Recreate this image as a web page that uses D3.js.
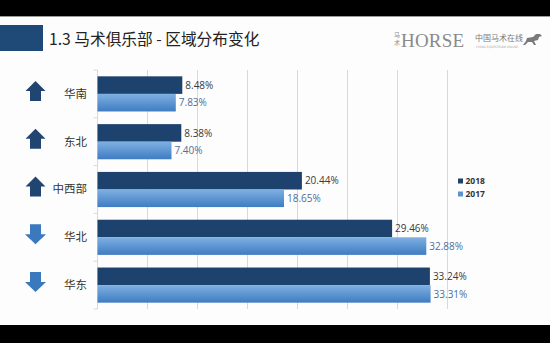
<!DOCTYPE html>
<html>
<head>
<meta charset="utf-8">
<script src="https://cdn.jsdelivr.net/npm/d3@7"></script>
<style>
  html, body { margin: 0; padding: 0; background: #000; }
  svg { display: block; }
</style>
</head>
<body>
<svg id="chart" width="550" height="343"></svg>
<script>
// Regional distribution of equestrian clubs, 2018 vs 2017 (%)
const regions = ["华南", "东北", "中西部", "华北", "华东"];
const values2018 = [8.48, 8.38, 20.44, 29.46, 33.24];
const values2017 = [7.83, 7.40, 18.65, 32.88, 33.31];
const trend = ["up", "up", "up", "down", "down"];
const seriesNames = ["2018", "2017"];
const xTicks = [0, 5, 10, 15, 20, 25, 30, 35];

const svg = d3.select("#chart");
const W = 550, H = 343;

// slide background between the black letterbox bands
svg.append("rect").attr("x", 0).attr("y", 0).attr("width", W).attr("height", H).attr("fill", "#000");
svg.append("rect").attr("x", 0).attr("y", 16).attr("width", W).attr("height", 309).attr("fill", "#fdfdfd");
svg.append("line").attr("x1", 0).attr("x2", W).attr("y1", 16.5).attr("y2", 16.5)
  .attr("stroke", "#9a9a9a").attr("stroke-width", 1);

// header
svg.append("rect").attr("x", 0).attr("y", 25).attr("width", 43).attr("height", 26).attr("fill", "#1f4a78");
svg.append("text").attr("x", 49).attr("y", 45)
  .attr("font-family", "'Noto Sans CJK SC', sans-serif").attr("font-size", 15.7)
  .attr("fill", "#222").text("1.3 马术俱乐部 - 区域分布变化");

// brand marks, upper right
const logo = svg.append("g").attr("fill", "#8a8a8a");
logo.append("text").attr("x", 394).attr("y", 37).attr("font-size", 6)
  .attr("font-family", "'Noto Sans CJK SC', sans-serif").text("马");
logo.append("text").attr("x", 394).attr("y", 45).attr("font-size", 6)
  .attr("font-family", "'Noto Sans CJK SC', sans-serif").text("术");
logo.append("text").attr("x", 401).attr("y", 47).attr("font-size", 19)
  .attr("font-family", "'Liberation Serif', serif").attr("textLength", 63).text("HORSE");
logo.append("text").attr("x", 475).attr("y", 41).attr("font-size", 8)
  .attr("font-family", "'Noto Sans CJK SC', sans-serif").attr("fill", "#7a7a7a").text("中国马术在线");
logo.append("text").attr("x", 476).attr("y", 47.5).attr("font-size", 3)
  .attr("font-family", "'DejaVu Sans', sans-serif").attr("fill", "#aaa").text("CHINA EQUESTRIAN ONLINE");
// small running horse silhouette
logo.append("path")
  .attr("d", "M527,38 l6,-1 l3,-3 l4,0 l2,2 l-3,1 l-1,3 l-4,1 l2,4 l-2,0 l-2,-3 l-4,0 l-3,3 l-2,0 l3,-4 z")
  .attr("fill", "#7a7a7a");

// plot geometry
const plotLeft = 97.5, plotRight = 447.5, plotTop = 70, plotBottom = 309;
const x = d3.scaleLinear().domain([0, 35]).range([plotLeft, plotRight]);
const y = d3.scaleBand().domain(regions).range([plotTop, plotBottom]).paddingInner(0).paddingOuter(0);
const inner = d3.scaleBand().domain(seriesNames).range([0, y.bandwidth()]).paddingInner(0).paddingOuter(0.36);

// gradient for 2017 bars
const defs = svg.append("defs");
const grad = defs.append("linearGradient").attr("id", "g2017").attr("x1", 0).attr("x2", 0).attr("y1", 0).attr("y2", 1);
grad.append("stop").attr("offset", "0%").attr("stop-color", "#7fb0e2");
grad.append("stop").attr("offset", "100%").attr("stop-color", "#3f7cc2");

// vertical gridlines
svg.append("g").selectAll("line").data(xTicks.slice(1)).join("line")
  .attr("x1", d => x(d)).attr("x2", d => x(d))
  .attr("y1", plotTop).attr("y2", plotBottom)
  .attr("stroke", "#d9d9d9").attr("stroke-width", 1);

// category axis with ticks between bands
const yAxis = svg.append("g").attr("transform", `translate(${plotLeft},0)`);
yAxis.append("line").attr("x1", 0).attr("x2", 0).attr("y1", plotTop).attr("y2", plotBottom)
  .attr("stroke", "#d9d9d9");
yAxis.selectAll("line.tk").data(d3.range(regions.length + 1)).join("line").attr("class", "tk")
  .attr("x1", -4).attr("x2", 0)
  .attr("y1", i => plotTop + i * y.bandwidth()).attr("y2", i => plotTop + i * y.bandwidth())
  .attr("stroke", "#d9d9d9");

// bars
const rows = regions.map((r, i) => ({ region: r, v: { "2018": values2018[i], "2017": values2017[i] }, trend: trend[i] }));
const groups = svg.append("g").selectAll("g").data(rows).join("g")
  .attr("transform", d => `translate(0,${y(d.region)})`);

groups.selectAll("rect").data(d => seriesNames.map(s => ({ s, v: d.v[s] }))).join("rect")
  .attr("x", x(0))
  .attr("y", d => inner(d.s))
  .attr("width", d => x(d.v) - x(0))
  .attr("height", inner.bandwidth())
  .attr("fill", d => d.s === "2018" ? "#1e426e" : "url(#g2017)");

groups.selectAll("text.val").data(d => seriesNames.map(s => ({ s, v: d.v[s] }))).join("text")
  .attr("class", "val")
  .attr("x", d => x(d.v) + 3)
  .attr("y", d => inner(d.s) + inner.bandwidth() / 2 + 3.7)
  .attr("font-family", "'Open Sans', 'Noto Sans', sans-serif")
  .attr("font-size", 10)
  .attr("fill", d => d.s === "2018" ? "#3a3a3a" : "#4d6f9c")
  .text(d => d.v.toFixed(2) + "%");

// category labels
groups.append("text")
  .attr("x", 87).attr("y", y.bandwidth() / 2 + 4)
  .attr("text-anchor", "end")
  .attr("font-family", "'Noto Sans CJK SC', sans-serif")
  .attr("font-size", 11.5).attr("fill", "#333")
  .text(d => d.region);

// trend arrows
const upPath = "M0,-10 L10,0 L5.5,0 L5.5,10 L-5.5,10 L-5.5,0 L-10,0 Z";
const downPath = "M0,10 L10.5,0 L5.5,0 L5.5,-10 L-5.5,-10 L-5.5,0 L-10.5,0 Z";
groups.append("path")
  .attr("transform", `translate(35.5,${y.bandwidth() / 2 - 3})`)
  .attr("d", d => d.trend === "up" ? upPath : downPath)
  .attr("fill", d => d.trend === "up" ? "#1f4570" : "#3b79be");

// legend
const legend = svg.append("g").attr("transform", "translate(458,0)");
seriesNames.forEach((s, i) => {
  const ly = 183.5 + i * 13;
  legend.append("rect").attr("x", 0).attr("y", ly - 5).attr("width", 5).attr("height", 5)
    .attr("fill", s === "2018" ? "#1e426e" : "#5b93d0");
  legend.append("text").attr("x", 7.5).attr("y", ly)
    .attr("font-family", "'Open Sans', sans-serif").attr("font-size", 8.5)
    .attr("font-weight", "bold").attr("fill", "#333").text(s);
});
</script>
</body>
</html>
